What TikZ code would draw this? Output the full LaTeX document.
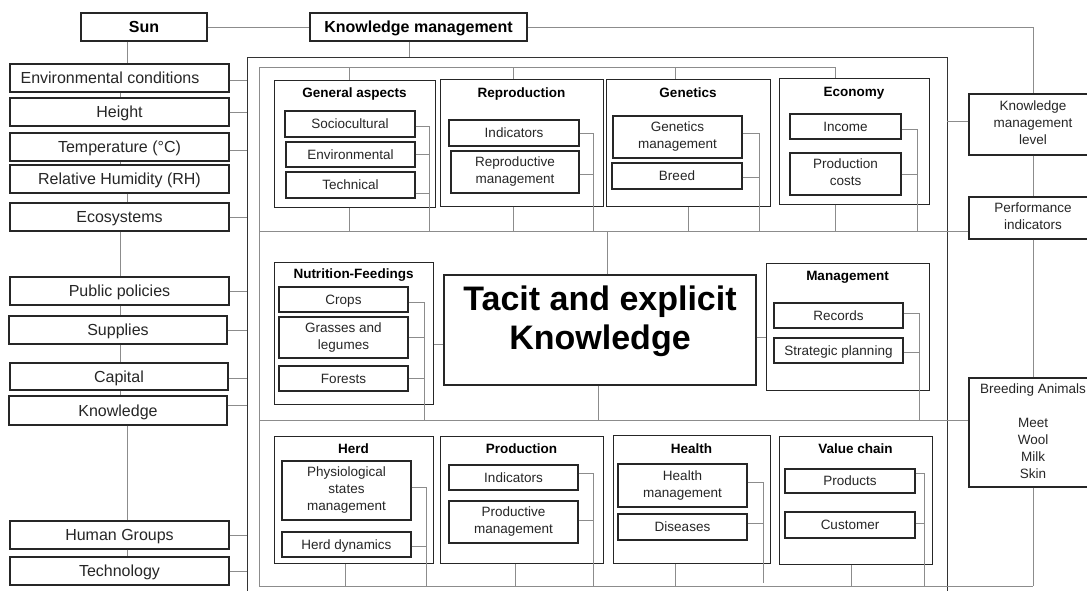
\documentclass[tikz,border=0pt]{standalone}
\usepackage{fontspec}
\setmainfont{Liberation Sans}
\newcommand\mkbox[7]{\node[#1, minimum width={#5-#3}, minimum height={#6-#4}] (#2) at ({(#3+#5)/2},{(#4+#6)/2}) {#7};}
\newcommand\asc{\vrule width0pt height.905em depth0pt\relax}
\newcommand\dsc{\vrule width0pt height0pt depth.212em\relax}
\tikzset{
 bx/.style={draw=black!85, line width=1.1pt, fill=white, inner sep=0pt, align=center, text=black!85,
   execute at begin node=\asc, execute at end node=\dsc},
 lft/.style={bx, font=\fontsize{16}{19}\selectfont},
 topbox/.style={bx, font=\fontsize{16}{19}\selectfont\bfseries, text=black},
 grp/.style={draw=black!85, line width=1pt, fill=white, inner sep=0pt},
 itm/.style={bx, font=\fontsize{13.5}{17}\selectfont},
 rgt/.style={bx, font=\fontsize{13.5}{17}\selectfont},
 tac/.style={draw=black!85, line width=1.1pt, fill=white, inner sep=0pt, align=center, text=black,
   font=\fontsize{34}{39}\selectfont\bfseries,
   execute at begin node=\asc, execute at end node={\vrule width0pt height0pt depth25pt\relax}},
 ttl/.style={font=\fontsize{13.5}{16}\selectfont\bfseries, inner sep=0pt, text=black, anchor=base},
 cn/.style={draw=black!45, line width=0.9pt},
 frm/.style={draw=black!80, line width=1pt},
}
\begin{document}
\begin{tikzpicture}[x=1pt,y=-1pt]
\fill[white] (0,0) rectangle (1087,590);
\useasboundingbox (0,0) rectangle (1087,590);
% outer frame
\coordinate (oTL) at (247,57);
\coordinate (oBR) at (947,596);
\draw[frm] (oTL |- oBR) -- (oTL) -- (oTL -| oBR) -- (oBR);
% inner frame and separators
\coordinate (iTL) at (259,67);
\coordinate (iBL) at (259,586);
\draw[cn] (iBL) -- (iTL) -- (835,67) -- (835,78);
\draw[cn] (349,67) -- (349,80);
\draw[cn] (513,67) -- (513,79);
\draw[cn] (675,67) -- (675,79);
\draw[cn] (259,231) -- (969,231);
\draw[cn] (259,420) -- (969,420);
\draw[cn] (iBL) -- (1033,586);
% top boxes
\mkbox{topbox}{sun}{81}{13}{207}{41}{Sun}
\mkbox{topbox}{km}{310}{13}{527}{41}{Knowledge management}
% right boxes
\mkbox{rgt}{kml}{969}{94}{1097}{155}{Knowledge\\management\\level}
\mkbox{rgt}{pi}{969}{197}{1097}{239}{Performance\\indicators}
\mkbox{rgt}{ba}{969}{378}{1097}{487}{Breeding Animals\\[16.5pt]Meet\\Wool\\Milk\\Skin}
% left boxes
\mkbox{lft}{env}{10}{64}{229}{92}{Environmental conditions\hspace*{19pt}}
\mkbox{lft}{hgt}{10}{98}{229}{126}{Height}
\mkbox{lft}{tmp}{10}{133}{229}{161}{Temperature (°C)}
\mkbox{lft}{rh}{10}{165}{229}{193}{Relative Humidity (RH)}
\mkbox{lft}{eco}{10}{203}{229}{231}{Ecosystems}
\mkbox{lft}{pub}{10}{277}{229}{305}{Public policies}
\mkbox{lft}{sup}{9}{316}{227}{344}{Supplies}
\mkbox{lft}{cap}{10}{363}{228}{390}{Capital}
\mkbox{lft}{knw}{9}{396}{227}{425}{Knowledge}
\mkbox{lft}{hum}{10}{521}{229}{549}{Human Groups}
\mkbox{lft}{tec}{10}{557}{229}{585}{Technology}
% group boxes
\mkbox{grp}{ga}{274}{80}{435}{207}{}
\mkbox{grp}{rep}{440}{79}{603}{206}{}
\mkbox{grp}{gen}{606}{79}{770}{206}{}
\mkbox{grp}{ecn}{779}{78}{929}{204}{}
\mkbox{grp}{nut}{274}{262}{433}{404}{}
\mkbox{grp}{mgt}{766}{263}{929}{390}{}
\mkbox{grp}{herd}{274}{436}{433}{563}{}
\mkbox{grp}{prod}{440}{436}{603}{563}{}
\mkbox{grp}{hlth}{613}{435}{770}{563}{}
\mkbox{grp}{vc}{779}{436}{932}{564}{}
\mkbox{tac}{tacit}{444}{275}{756}{385}{Tacit and explicit\\Knowledge}
% titles
\node[ttl] (gaT) at (354.5,97.8) {General aspects};
\node[ttl] (repT) at (521.5,97.8) {Reproduction};
\node[ttl] (genT) at (688,97.8) {Genetics};
\node[ttl] (ecnT) at (854,96.8) {Economy};
\node[ttl] (nutT) at (353.5,278.8) {Nutrition-Feedings};
\node[ttl] (mgtT) at (847.5,280.8) {Management};
\node[ttl] (herdT) at (353.5,453.8) {Herd};
\node[ttl] (prodT) at (521.5,453.8) {Production};
\node[ttl] (hlthT) at (691.5,453.8) {Health};
\node[ttl] (vcT) at (855.5,453.8) {Value chain};
% items
\mkbox{itm}{soc}{285}{111}{415}{137}{Sociocultural}
\mkbox{itm}{envi}{286}{142}{415}{167}{Environmental}
\mkbox{itm}{tech}{286}{172}{415}{198}{Technical}
\mkbox{itm}{rind}{449}{120}{579}{146}{Indicators}
\mkbox{itm}{rman}{451}{151}{579}{193}{Reproductive\\management}
\mkbox{itm}{gman}{613}{116}{742}{158}{Genetics\\management}
\mkbox{itm}{brd}{612}{163}{742}{189}{Breed}
\mkbox{itm}{inc}{790}{114}{901}{139}{Income}
\mkbox{itm}{pcost}{790}{153}{901}{195}{Production\\costs}
\mkbox{itm}{crops}{279}{287}{408}{312}{Crops}
\mkbox{itm}{grass}{279}{317}{408}{358}{Grasses and\\legumes}
\mkbox{itm}{forest}{279}{366}{408}{391}{Forests}
\mkbox{itm}{rec}{774}{303}{903}{328}{Records}
\mkbox{itm}{strat}{774}{338}{903}{363}{Strategic planning}
\mkbox{itm}{psm}{282}{461}{411}{520}{Physiological\\states\\management}
\mkbox{itm}{hdyn}{282}{532}{411}{557}{Herd dynamics}
\mkbox{itm}{pind}{449}{465}{578}{490}{Indicators}
\mkbox{itm}{pman}{449}{501}{578}{543}{Productive\\management}
\mkbox{itm}{hman}{618}{464}{747}{507}{Health\\management}
\mkbox{itm}{dis}{618}{514}{747}{540}{Diseases}
\mkbox{itm}{prods}{785}{469}{915}{493}{Products}
\mkbox{itm}{cust}{785}{512}{915}{538}{Customer}
% top connectors
\draw[cn] (sun.east) -- (km.west);
\draw[cn] (km.east) -| (kml.north);
\draw[cn] (km.south -| 409,0) -- (oTL -| 409,0);
\draw[cn] (kml.south) -- (pi.north);
\draw[cn] (pi.south) -- (ba.north);
\draw[cn] (ba.south) -- (ba.south |- iBL);
\draw[cn] (kml.west |- 0,121) -- (oBR |- 0,121);
% left chain
\coordinate (va) at (120,0);
\coordinate (vb) at (127,0);
\draw[cn] (sun.south -| vb) -- (env.north -| vb);
\draw[cn] (env.south -| va) -- (hgt.north -| va);
\draw[cn] (tmp.south -| va) -- (rh.north -| va);
\draw[cn] (rh.south -| vb) -- (eco.north -| vb);
\draw[cn] (eco.south -| va) -- (pub.north -| va);
\draw[cn] (pub.south -| va) -- (sup.north -| va);
\draw[cn] (sup.south -| va) -- (cap.north -| va);
\draw[cn] (cap.south -| va) -- (knw.north -| va);
\draw[cn] (knw.south -| vb) -- (hum.north -| vb);
\draw[cn] (hum.south -| vb) -- (tec.north -| vb);
% left to outer frame
\draw[cn] (env.east |- 0,80) -- (oTL |- 0,80);
\draw[cn] (hgt.east) -- (hgt.east -| oTL);
\draw[cn] (tmp.east |- 0,150) -- (oTL |- 0,150);
\draw[cn] (eco.east) -- (eco.east -| oTL);
\draw[cn] (pub.east) -- (pub.east -| oTL);
\draw[cn] (sup.east) -- (sup.east -| oTL);
\draw[cn] (cap.east |- 0,378) -- (oTL |- 0,378);
\draw[cn] (knw.east |- 0,405) -- (oTL |- 0,405);
\draw[cn] (hum.east) -- (hum.east -| oTL);
\draw[cn] (tec.east |- 0,571) -- (oTL |- 0,571);
% top band buses
\draw[cn] (soc.east |- 0,126) -| (429,231);
\draw[cn] (envi.east |- 0,154) -- (429,154);
\draw[cn] (tech.east |- 0,193) -- (429,193);
\draw[cn] (rind.east |- 0,133) -| (593,231);
\draw[cn] (rman.east |- 0,174) -- (593,174);
\draw[cn] (gman.east |- 0,133) -| (759,231);
\draw[cn] (brd.east |- 0,177) -- (759,177);
\draw[cn] (inc.east |- 0,129) -| (917,231);
\draw[cn] (pcost.east |- 0,174) -- (917,174);
\draw[cn] (ga.south -| 349,0) -- (349,231);
\draw[cn] (rep.south -| 513,0) -- (513,231);
\draw[cn] (gen.south -| 688,0) -- (688,231);
\draw[cn] (ecn.south -| 835,0) -- (835,231);
% middle band
\draw[cn] (crops.east |- 0,302) -| (424,420);
\draw[cn] (grass.east |- 0,337) -- (424,337);
\draw[cn] (forest.east |- 0,378) -- (424,378);
\draw[cn] (nut.east |- 0,344) -- (tacit.west |- 0,344);
\draw[cn] (tacit.north -| 607,0) -- (607,231);
\draw[cn] (tacit.south -| 598,0) -- (598,420);
\draw[cn] (tacit.east |- 0,337) -- (mgt.west |- 0,337);
\draw[cn] (rec.east |- 0,313) -| (919,420);
\draw[cn] (strat.east |- 0,352) -- (919,352);
% bottom band
\draw[cn] (psm.east |- 0,487) -| (426,586);
\draw[cn] (hdyn.east |- 0,546) -- (426,546);
\draw[cn] (herd.south -| 345,0) -- (345,586);
\draw[cn] (pind.east |- 0,473) -| (593,586);
\draw[cn] (pman.east |- 0,520) -- (593,520);
\draw[cn] (prod.south -| 515,0) -- (515,586);
\draw[cn] (hman.east |- 0,482) -| (763,583);
\draw[cn] (dis.east |- 0,523) -- (763,523);
\draw[cn] (hlth.south -| 675,0) -- (675,586);
\draw[cn] (prods.east |- 0,473) -| (924,586);
\draw[cn] (cust.east |- 0,523) -- (924,523);
\draw[cn] (vc.south -| 851,0) -- (851,586);
\end{tikzpicture}
\end{document}
